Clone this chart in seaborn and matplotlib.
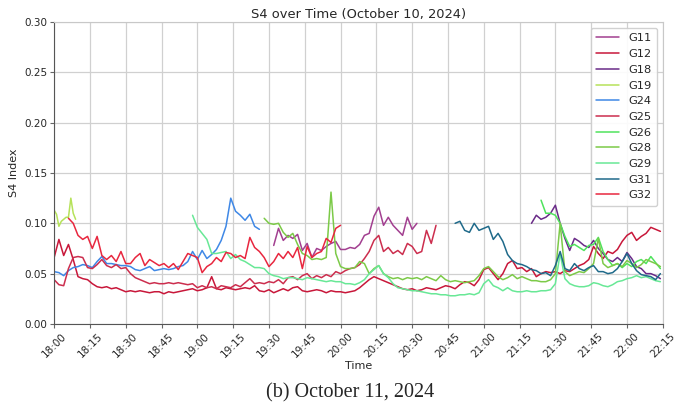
import pandas as pd
import numpy as np
import seaborn as sns
import matplotlib.pyplot as plt
import matplotlib.dates as mdates

day = '2024-10-10 '

# S4 values per satellite, start time and sampling step (minutes)
g11_start, g11_step = '19:32', 2
g11 = [.078, .095, .083, .088, .085, .089, .073, .080, .066, .075, .073, .077, .080, .082, .074, .074,
       .076, .075, .079, .088, .090, .107, .116, .098, .106, .098, .093, .088, .106, .094, .100]

g12_start, g12_step = '18:00', 2
g12 = [.066, .084, .068, .079, .064, .047, .045, .044, .040, .037, .036, .037, .035, .036, .034, .032,
       .033, .032, .033, .032, .031, .032, .032, .030, .032, .031, .032, .033, .034, .035, .033, .034,
       .036, .047, .035, .034, .036, .035, .034, .035, .036, .035, .038, .033, .032, .034, .031, .033,
       .035, .033, .036, .037, .033, .032, .033, .034, .033, .031, .033, .032, .032, .031, .032, .033,
       .036, .040, .044, .047, .045, .043, .041, .039, .037, .035, .034, .035, .033, .034, .036, .035,
       .034, .036, .038, .037, .035, .039, .042, .041, .038, .044, .054, .056, .050, .044, .050, .060,
       .063, .055, .056, .052, .055, .047, .050, .052, .051, .052, .050, .053, .052, .055, .058, .060,
       .064, .077, .070, .065, .072, .070, .074, .082, .088, .091, .083, .087, .090, .096, .094, .092]

g18_start, g18_step = '21:20', 2
g18 = [.100, .108, .104, .106, .110, .118, .100, .085, .073, .085, .082, .078, .076, .083, .075, .070,
       .064, .062, .066, .062, .071, .065, .057, .055, .050, .050, .048, .045]

g19_start, g19_step = '18:00', 1
g19 = [.113, .109, .097, .102, .104, .106, .106, .125, .110, .104]

g24_start, g24_step = '18:00', 2
g24 = [.052, .051, .048, .053, .056, .057, .059, .058, .056, .062, .067, .060, .060, .059, .058, .058,
       .057, .054, .053, .055, .057, .053, .054, .055, .054, .055, .057, .058, .062, .072, .064, .073,
       .065, .069, .074, .083, .097, .125, .112, .108, .103, .109, .097, .094]

g25_start, g25_step = '18:00', 2
g25 = [.044, .039, .038, .055, .066, .067, .066, .056, .055, .059, .064, .058, .056, .059, .055, .056,
       .050, .046, .044, .042, .040, .041, .040, .040, .041, .040, .041, .040, .039, .040, .036, .038,
       .036, .037, .035, .038, .037, .036, .039, .037, .041, .045, .040, .041, .040, .042, .041, .044,
       .040, .046, .047, .044, .048, .050, .045, .048, .046, .049, .047, .052, .050, .053, .055, .056,
       .059, .065, .072, .083, .088, .072, .076, .070, .073, .069, .080, .077, .070, .072, .093, .080, .098]

g26_start, g26_step = '21:24', 2
g26 = [.123, .110, .110, .108, .100, .087, .077, .079, .076, .073, .078, .079, .086, .072, .064, .058,
       .060, .056, .060, .057, .062, .064, .060, .067, .061, .055]

g28_start, g28_step = '19:28', 2
g28 = [.105, .100, .099, .100, .091, .086, .090, .079, .070, .068, .064, .065, .064, .066, .131, .070,
       .057, .055, .055, .056, .062, .060, .050, .055, .058, .050, .047, .045, .046, .044, .046, .045,
       .046, .044, .047, .045, .043, .048, .044, .042, .043, .042, .041, .042, .043, .048, .055, .057,
       .052, .047, .044, .046, .049, .045, .047, .045, .043, .043, .042, .042, .044, .050, .100, .052,
       .048, .050, .052, .051, .055, .060, .085, .060, .056, .058, .060, .057, .063, .060, .056, .059,
       .064, .062, .060, .057]

g29_start, g29_step = '18:58', 2
g29 = [.108, .096, .090, .084, .070, .070, .071, .072, .065, .069, .064, .062, .059, .056, .056, .055,
       .050, .048, .047, .045, .046, .046, .045, .044, .046, .045, .044, .043, .042, .043, .042, .042,
       .040, .040, .039, .041, .044, .050, .054, .058, .050, .046, .040, .036, .035, .034, .033, .033,
       .032, .031, .030, .030, .029, .029, .028, .028, .029, .029, .030, .029, .031, .040, .044, .038,
       .036, .033, .036, .033, .032, .032, .033, .032, .032, .033, .033, .034, .040, .070, .045, .040,
       .038, .037, .037, .038, .041, .040, .038, .037, .039, .042, .043, .045, .046, .048, .046, .047,
       .045, .043, .042]

g31_start, g31_step = '20:48', 2
g31 = [.100, .102, .093, .091, .100, .093, .095, .097, .084, .090, .082, .069, .063, .060, .059, .057,
       .054, .053, .050, .051, .048, .058, .072, .055, .053, .060, .055, .053, .056, .058, .052, .052,
       .050, .051, .055, .062, .070, .060, .053, .049, .048, .047, .044, .050]

g32_start, g32_step = '18:06', 2
g32 = [.105, .100, .088, .084, .087, .075, .087, .068, .064, .068, .062, .072, .060, .060, .066, .070,
       .058, .064, .061, .058, .060, .056, .060, .054, .062, .070, .068, .066, .051, .057, .060, .066,
       .062, .071, .070, .066, .068, .065, .086, .076, .072, .066, .057, .062, .070, .065, .072, .066,
       .076, .055, .077, .066, .070, .072, .085, .081, .095, .098]

colors = {'G11': '#a23f90', 'G12': '#c8173a', 'G18': '#6a2b88', 'G19': '#b6e25a',
          'G24': '#3f88e6', 'G25': '#cc2e4e', 'G26': '#4fe35d', 'G28': '#7cca48',
          'G29': '#68e896', 'G31': '#1f6a8a', 'G32': '#e8273f'}

series = {'G11': (g11_start, g11_step, g11), 'G12': (g12_start, g12_step, g12),
          'G18': (g18_start, g18_step, g18), 'G19': (g19_start, g19_step, g19),
          'G24': (g24_start, g24_step, g24), 'G25': (g25_start, g25_step, g25),
          'G26': (g26_start, g26_step, g26), 'G28': (g28_start, g28_step, g28),
          'G29': (g29_start, g29_step, g29), 'G31': (g31_start, g31_step, g31),
          'G32': (g32_start, g32_step, g32)}

frames = []
for prn, (start, step, vals) in series.items():
    t = pd.date_range(day + start, periods=len(vals), freq=f'{step}min')
    frames.append(pd.DataFrame({'Time': t, 'S4': vals, 'PRN': prn}))
df = pd.concat(frames, ignore_index=True)

sns.set_style('whitegrid')
plt.rcParams['font.family'] = ['DejaVu Sans']

fig = plt.figure(figsize=(6.94, 4.08), dpi=100)
ax = fig.add_axes([0.078, 0.206, 0.877, 0.740])

sns.lineplot(data=df, x='Time', y='S4', hue='PRN', palette=colors,
             hue_order=list(colors.keys()), estimator=None, linewidth=1.1, ax=ax)

ax.set_xlim(pd.Timestamp(day + '18:00'), pd.Timestamp(day + '22:15'))
ax.set_ylim(0, 0.30)
ax.set_yticks(np.arange(0, 0.31, 0.05))
ax.xaxis.set_major_locator(mdates.MinuteLocator(byminute=[0, 15, 30, 45]))
ax.xaxis.set_major_formatter(mdates.DateFormatter('%H:%M'))
ax.tick_params(axis='x', labelrotation=45, labelsize=7.5, bottom=True, length=3,
               color='#666666', pad=2)
ax.tick_params(axis='y', labelsize=7.5, left=True, length=3, color='#666666', pad=2)
ax.grid(True, color='#d0d0d0', linewidth=0.9)

for s in ['left', 'bottom']:
    ax.spines[s].set_color('#555555')
for s in ['top', 'right']:
    ax.spines[s].set_color('#c8c8c8')

ax.set_title('S4 over Time (October 10, 2024)', fontsize=9.4, pad=3)
ax.set_xlabel('Time', fontsize=8, labelpad=1)
ax.set_ylabel('S4 Index', fontsize=8, labelpad=4)

ax.legend(loc='upper right', fontsize=8.2, labelspacing=0.5, borderpad=0.5,
          handlelength=2.0, framealpha=0.9)

fig.text(0.505, 0.038, '(b) October 11, 2024', ha='center', va='center',
         fontsize=14.5, family='Liberation Serif')

plt.savefig('out.png', dpi=100)
